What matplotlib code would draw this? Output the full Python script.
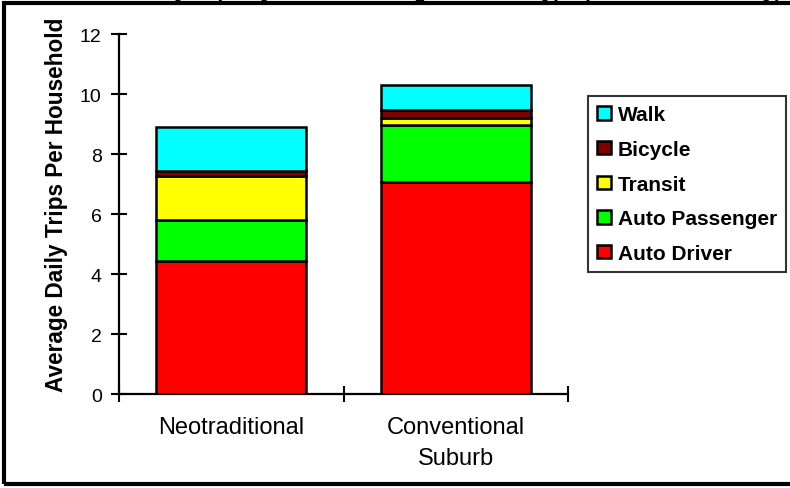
import matplotlib
matplotlib.use('Agg')
import matplotlib.pyplot as plt
from matplotlib.patches import Rectangle

plt.rcParams['font.family'] = ['Liberation Sans', 'DejaVu Sans']

# data
categories = ['Neotraditional', 'Conventional\nSuburb']
modes = ['Auto Driver', 'Auto Passenger', 'Transit', 'Bicycle', 'Walk']
auto_driver = [4.45, 7.08]
auto_passenger = [1.35, 1.90]
transit = [1.48, 0.22]
bicycle = [0.14, 0.27]
walk = [1.48, 0.83]
colors = ['#FF0000', '#00FF00', '#FFFF00', '#800000', '#00FFFF']
title = 'Daily Trips by Mode and Neighborhood Type (Household Survey)'

series = [auto_driver, auto_passenger, transit, bicycle, walk]

fig = plt.figure(figsize=(7.9, 4.89), dpi=100)
ax = fig.add_axes([119/790, 1-395/489, 449/790, 360/489])

x = list(range(len(categories)))
bottom = [0.0]*len(categories)
handles = []
for name, vals, c in zip(modes, series, colors):
    b = ax.bar(x, vals, 0.67, bottom=bottom, color=c, edgecolor='black',
               linewidth=1.8, label=name, zorder=3)
    handles.append(b)
    bottom = [p + v for p, v in zip(bottom, vals)]

ax.set_xlim(-0.5, 1.5)
ax.set_ylim(0, 12)
for s in ['top', 'right']:
    ax.spines[s].set_visible(False)
for s in ['left', 'bottom']:
    ax.spines[s].set_linewidth(1.6)

ax.set_yticks(range(0, 13, 2))
ax.tick_params(axis='y', direction='inout', length=11, width=1.5, pad=7, labelsize=14)
ax.set_xticks([-0.5, 0.5, 1.5])
ax.set_xticklabels([])
ax.tick_params(axis='x', which='major', direction='inout', length=12, width=1.5)
ax.set_xticks(x, minor=True)
ax.set_xticklabels(categories, minor=True, fontsize=17, linespacing=1.5)
ax.tick_params(axis='x', which='minor', length=0, pad=16)
ax.set_ylabel('Average Daily Trips Per Household', fontsize=16.3, fontweight='bold')
ax.yaxis.set_label_coords(-0.113, 0.528)

leg = fig.legend(handles[::-1], modes[::-1], loc='upper left',
                 bbox_to_anchor=(588/790, 1-97/489), frameon=True, fancybox=False,
                 edgecolor='black', prop={'weight': 'bold', 'size': 15},
                 handlelength=0.63, handleheight=0.6, handletextpad=0.35,
                 labelspacing=0.75, borderpad=0.45, borderaxespad=0)
leg.get_frame().set_linewidth(1.5)

# title runs off the top edge, only descenders show
fig.text(0.58, 1 + 2.5/489, title, ha='center', va='baseline', fontsize=15,
         fontweight='bold')

# frame: left, top and bottom (right side is cropped off in the reference)
fig.patches.append(Rectangle((4/790, 4/489), 800/790, 481/489, transform=fig.transFigure,
                             fill=False, edgecolor='black', linewidth=3))

fig.savefig('out.png', dpi=100)
